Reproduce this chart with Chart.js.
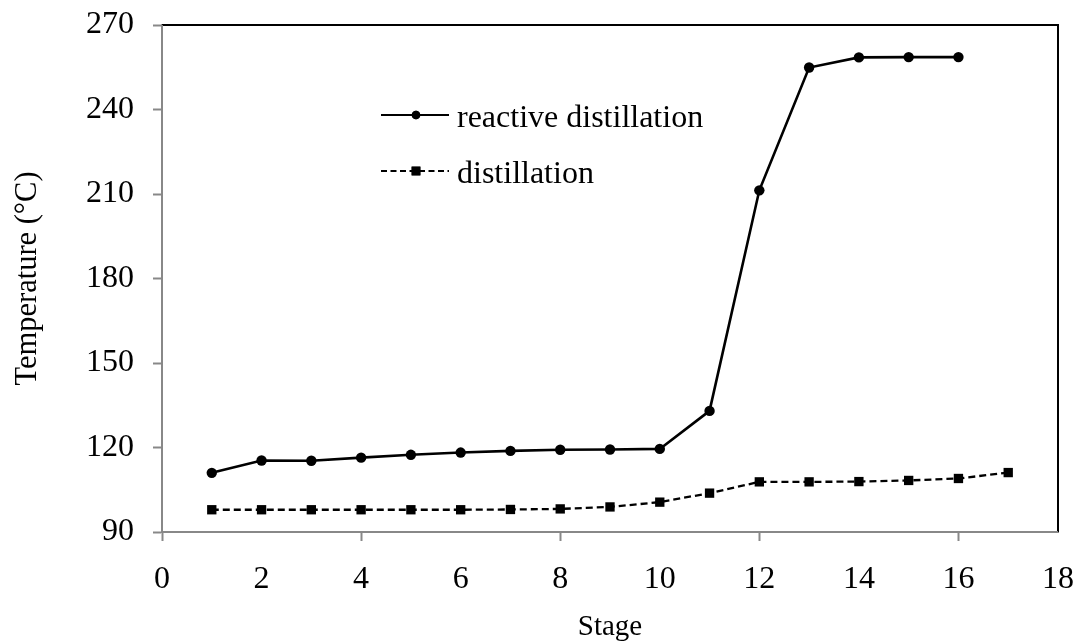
<!DOCTYPE html>
<html>
<head>
<meta charset="utf-8">
<script src="https://cdn.jsdelivr.net/npm/chart.js@4.4.1/dist/chart.umd.min.js"></script>
<style>
  html, body { margin: 0; padding: 0; background: #fff; }
  #wrap { width: 1082px; height: 642px; }
</style>
</head>
<body>
<div id="wrap"><canvas id="chart" width="1082" height="642"></canvas></div>
<script>
const stages = [1, 2, 3, 4, 5, 6, 7, 8, 9, 10, 11, 12, 13, 14, 15, 16, 17];

const reactive = [111.0, 115.4, 115.3, 116.4, 117.4, 118.2, 118.8, 119.2, 119.3, 119.5, 133.0, 211.3, 254.9, 258.5, 258.6, 258.6];
const distil = [97.9, 97.9, 97.9, 97.9, 97.9, 97.9, 98.0, 98.2, 98.9, 100.6, 103.8, 107.8, 107.8, 107.9, 108.3, 109.0, 111.1];

const seriesNames = ["reactive distillation", "distillation"];

const xTicks = [0, 2, 4, 6, 8, 10, 12, 14, 16, 18];
const yTicks = [90, 120, 150, 180, 210, 240, 270];

const FONT = "'Liberation Serif', 'Times New Roman', serif";
const AXIS_GREY = "#888888";

function pts(vals) {
    return vals.map((v, i) => ({ x: stages[i], y: v }));
}

// black frame on top/right, axes drawn grey over it
const frame = {
    id: "frame",
    beforeDatasetsDraw(chart) {
        const a = chart.chartArea;
        const ctx = chart.ctx;
        ctx.save();
        ctx.strokeStyle = "#000";
        ctx.lineWidth = 2;
        ctx.beginPath();
        ctx.moveTo(a.left, a.top);
        ctx.lineTo(a.right, a.top);
        ctx.lineTo(a.right, a.bottom);
        ctx.stroke();
        // redo the grey axes so they sit on top
        ctx.strokeStyle = AXIS_GREY;
        ctx.beginPath();
        ctx.moveTo(a.left, a.top);
        ctx.lineTo(a.left, a.bottom);
        ctx.lineTo(a.right, a.bottom);
        ctx.stroke();
        ctx.restore();
    }
};

// legend sitting inside the plot
const insideLegend = {
    id: "insideLegend",
    afterDraw(chart) {
        const ctx = chart.ctx;
        const rows = [
            { y: 115, dash: [], style: "circle", r: 4.3 },
            { y: 171, dash: [6, 3.5], style: "rect", r: 6.2 }
        ];
        ctx.save();
        rows.forEach((row, i) => {
            ctx.strokeStyle = "#000";
            ctx.lineWidth = 2.2;
            ctx.setLineDash(row.dash);
            ctx.beginPath();
            ctx.moveTo(381, row.y);
            ctx.lineTo(449, row.y);
            ctx.stroke();
            ctx.setLineDash([]);
            ctx.fillStyle = "#000";
            Chart.helpers.drawPoint(ctx, { pointStyle: row.style, radius: row.r, borderWidth: 0 }, 416, row.y);
            ctx.fill();
            ctx.font = "32px " + FONT;
            ctx.textBaseline = "middle";
            ctx.fillText(seriesNames[i], 457, row.y + 4);
        });
        ctx.restore();
    }
};

function noPad(s) {
    s.paddingTop = 0;
    s.paddingBottom = 0;
    s.paddingLeft = 0;
    s.paddingRight = 0;
}

new Chart(document.getElementById("chart"), {
    type: "line",
    data: {
        datasets: [
            {
                label: seriesNames[0],
                data: pts(reactive),
                borderColor: "#000",
                backgroundColor: "#000",
                borderWidth: 2.6,
                pointStyle: "circle",
                pointRadius: 5.2,
                pointBorderWidth: 0,
                tension: 0
            },
            {
                label: seriesNames[1],
                data: pts(distil),
                borderColor: "#000",
                backgroundColor: "#000",
                borderWidth: 2.3,
                borderDash: [7, 4],
                pointStyle: "rect",
                pointRadius: 6.6,
                pointBorderWidth: 0,
                tension: 0
            }
        ]
    },
    options: {
        responsive: false,
        animation: false,
        layout: { padding: { top: 25, right: 24, left: 0, bottom: 0 } },
        plugins: {
            legend: { display: false },
            tooltip: { enabled: false }
        },
        scales: {
            x: {
                type: "linear",
                min: 0,
                max: 18,
                afterBuildTicks: s => { s.ticks = xTicks.map(v => ({ value: v })); },
                afterFit: s => { s.height = 110; noPad(s); },
                ticks: {
                    color: "#000",
                    padding: 19,
                    maxRotation: 0,
                    font: { family: FONT, size: 32 }
                },
                grid: {
                    drawOnChartArea: false,
                    tickLength: 9,
                    tickWidth: 2,
                    tickColor: c => (c.tick && c.tick.value % 4 === 0 ? AXIS_GREY : "rgba(0,0,0,0)")
                },
                border: { color: AXIS_GREY, width: 2 },
                title: {
                    display: true,
                    text: "Stage",
                    color: "#000",
                    font: { family: FONT, size: 29, lineHeight: 1 },
                    padding: 0
                }
            },
            y: {
                min: 90,
                max: 270,
                afterBuildTicks: s => { s.ticks = yTicks.map(v => ({ value: v })); },
                afterFit: s => { s.width = 162; noPad(s); },
                ticks: {
                    color: "#000",
                    padding: 19,
                    font: { family: FONT, size: 32 }
                },
                grid: {
                    drawOnChartArea: false,
                    tickLength: 9,
                    tickWidth: 2,
                    tickColor: AXIS_GREY
                },
                border: { color: AXIS_GREY, width: 2 },
                title: {
                    display: true,
                    text: "Temperature (°C)",
                    color: "#000",
                    font: { family: FONT, size: 30.5, lineHeight: 1 },
                    padding: { top: 13, bottom: 0 }
                }
            }
        }
    },
    plugins: [frame, insideLegend]
});
</script>
</body>
</html>
